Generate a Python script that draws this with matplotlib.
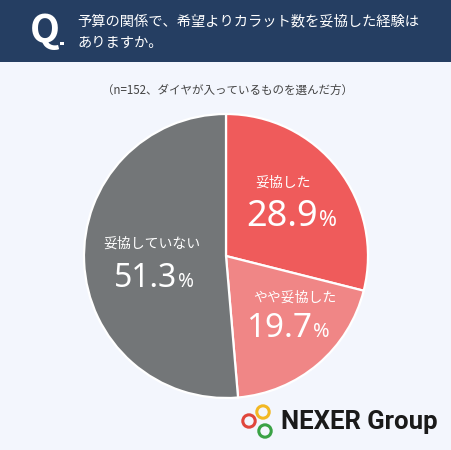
import matplotlib
matplotlib.use("Agg")
import matplotlib.pyplot as plt
from matplotlib.patches import Rectangle, Circle

plt.rcParams['font.family'] = ['Noto Sans CJK JP', 'DejaVu Sans']

labels = ['妥協した', 'やや妥協した', '妥協していない']
values = [28.9, 19.7, 51.3]
colors = ['#ef5b5b', '#f08686', '#737678']

title_q = 'Q'
title_lines = ['予算の関係で、希望よりカラット数を妥協した経験は', 'ありますか。']
subtitle = '（n=152、ダイヤが入っているものを選んだ方）'

W, H = 452, 450
fig = plt.figure(figsize=(W / 100, H / 100), dpi=100)
fig.patch.set_facecolor('#f3f6fd')

def fx(x):
    return x / W

def fy(y):
    return 1 - y / H

# header band
fig.patches.append(Rectangle((0, fy(62)), 1, 62 / H, transform=fig.transFigure,
                             facecolor='#253e62', edgecolor='none', zorder=0))
fig.text(fx(30), fy(30), title_q, color='white', fontsize=28, fontweight='bold',
         ha='left', va='center')
fig.patches.append(Rectangle((fx(60), fy(45)), 3.5 / W, 3.5 / H, transform=fig.transFigure,
                             facecolor='white', edgecolor='none', zorder=2))
fig.text(fx(77), fy(21), title_lines[0], color='white', fontsize=10.3, ha='left', va='center')
fig.text(fx(77), fy(43), title_lines[1], color='white', fontsize=10.3, ha='left', va='center')

fig.text(fx(228), fy(90), subtitle, color='#444444', fontsize=8.3, ha='center', va='center')

# pie
cx, cy, r = 226, 256, 142
ax = fig.add_axes([fx(cx - r), fy(cy + r), 2 * r / W, 2 * r / H])
ax.pie(values, colors=colors, startangle=90, counterclock=False,
       wedgeprops=dict(edgecolor='white', linewidth=1.6))
ax.set_xlim(-1, 1)
ax.set_ylim(-1, 1)
ax.set_aspect('equal')
ax.axis('off')

def label(x_lab, y_lab, lab, x_num, y_num, val, size_lab, size_num):
    fig.text(fx(x_lab), fy(y_lab), lab, color='white', fontsize=size_lab, ha='center', va='center')
    fig.text(fx(x_num), fy(y_num), f'{val:.1f}', color='white', fontsize=size_num,
             ha='right', va='baseline', family=['Noto Sans'])
    fig.text(fx(x_num + 1), fy(y_num), '%', color='white', fontsize=size_num * 0.6,
             ha='left', va='baseline', family=['Noto Sans'])

label(283, 183, labels[0], 318, 226, values[0], 10, 26)
label(295, 298, labels[1], 312, 337, values[1], 10, 24)
label(152, 244, labels[2], 177, 287, values[2], 10, 23)

# logo
for (x, y, c) in [(249, 421, '#e0463c'), (263, 412, '#f2b824'), (265, 431, '#3aa245')]:
    fig.patches.append(Circle((fx(x), fy(y)), 6.2 / W, transform=fig.transFigure,
                              facecolor='none', edgecolor=c, linewidth=2.2, zorder=3))
fig.text(fx(281), fy(422), 'NEXER Group', color='#1a1a1a', fontsize=18.5, fontweight='bold',
         ha='left', va='center', family=['Roboto'])

fig.savefig('out.png', dpi=100, facecolor=fig.get_facecolor())
